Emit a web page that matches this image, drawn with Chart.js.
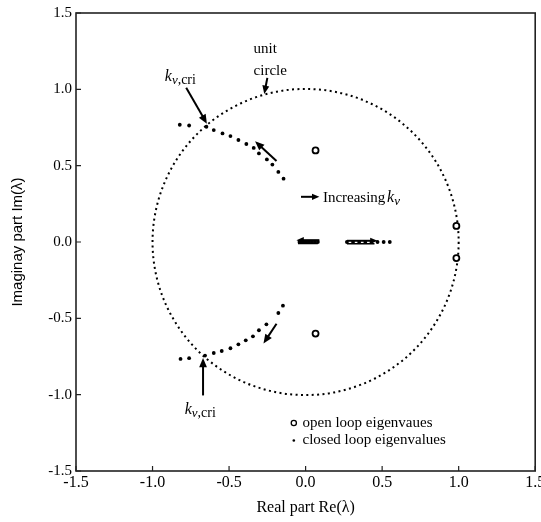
<!DOCTYPE html>
<html>
<head>
<meta charset="utf-8">
<script src="https://cdn.jsdelivr.net/npm/chart.js@4.4.0/dist/chart.umd.min.js"></script>
<style>
  html, body { margin: 0; padding: 0; background: #fff; }
  #wrap { width: 541px; height: 522px; }
</style>
</head>
<body>
<div id="wrap"><canvas id="locus"></canvas></div>
<script>
'use strict';

// ************** Data ***************

let tickValues = [-1.5, -1.0, -0.5, 0.0, 0.5, 1.0, 1.5];

// open loop eigenvalues
let openRe = [0.065, 0.065, 0.985, 0.985];
let openIm = [0.60, -0.60, 0.105, -0.105];

// closed loop eigenvalues, upper complex branch
let upperRe = [-0.822, -0.761, -0.648, -0.600, -0.543, -0.491, -0.439, -0.387, -0.339, -0.305, -0.253, -0.217, -0.178, -0.144];
let upperIm = [0.768, 0.763, 0.755, 0.733, 0.711, 0.694, 0.668, 0.642, 0.616, 0.580, 0.541, 0.507, 0.459, 0.415];

// closed loop eigenvalues, lower complex branch
let lowerRe = [-0.817, -0.761, -0.657, -0.600, -0.548, -0.491, -0.439, -0.391, -0.344, -0.305, -0.256, -0.178, -0.148];
let lowerIm = [-0.766, -0.761, -0.744, -0.727, -0.714, -0.696, -0.670, -0.644, -0.618, -0.578, -0.539, -0.465, -0.417];

// closed loop eigenvalues on the real axis
let realRe = [-0.04, -0.02, 0.0, 0.02, 0.04, 0.06, 0.08, 0.27, 0.31, 0.35, 0.39, 0.43, 0.47, 0.51, 0.55];
let realIm = [0, 0, 0, 0, 0, 0, 0, 0, 0, 0, 0, 0, 0, 0, 0];

function toPoints(re, im) {
  let pts = [];
  for (let i = 0; i < re.length; i++) {
    pts.push({ x: re[i], y: im[i] });
  }
  return pts;
}

// ************** Drawing helpers ***************

function drawArrow(ctx, x1, y1, x2, y2, head) {
  let ang = Math.atan2(y2 - y1, x2 - x1);
  ctx.beginPath();
  ctx.moveTo(x1, y1);
  ctx.lineTo(x2 - Math.cos(ang) * head * 0.7, y2 - Math.sin(ang) * head * 0.7);
  ctx.stroke();
  ctx.beginPath();
  ctx.moveTo(x2, y2);
  ctx.lineTo(x2 - head * Math.cos(ang - 0.4), y2 - head * Math.sin(ang - 0.4));
  ctx.lineTo(x2 - head * Math.cos(ang + 0.4), y2 - head * Math.sin(ang + 0.4));
  ctx.closePath();
  ctx.fill();
}

function drawKv(ctx, x, y, bigSize) {
  ctx.textAlign = 'left';
  ctx.textBaseline = 'alphabetic';
  ctx.font = 'italic ' + bigSize + 'px "Liberation Serif"';
  ctx.fillText('k', x, y);
  let w = ctx.measureText('k').width;
  ctx.font = 'italic ' + (bigSize - 3) + 'px "Liberation Serif"';
  ctx.fillText('v', x + w, y + 3);
  return x + w + ctx.measureText('v').width;
}

// ************** Plugin: unit circle, frame, ticks, notes ***************

let locusExtras = {
  id: 'locusExtras',
  beforeDatasetsDraw(chart) {
    let ctx = chart.ctx;
    let sx = chart.scales.x;
    let sy = chart.scales.y;
    let cx = sx.getPixelForValue(0);
    let cy = sy.getPixelForValue(0);
    let r = sx.getPixelForValue(1) - cx;
    ctx.save();
    ctx.strokeStyle = '#000';
    ctx.lineWidth = 2;
    ctx.setLineDash([2, 3.4]);
    ctx.beginPath();
    ctx.arc(cx, cy, r, 0, Math.PI * 2);
    ctx.stroke();
    ctx.restore();
  },
  afterDraw(chart) {
    let ctx = chart.ctx;
    let sx = chart.scales.x;
    let sy = chart.scales.y;
    let a = chart.chartArea;
    let px = v => sx.getPixelForValue(v);
    let py = v => sy.getPixelForValue(v);

    ctx.save();
    // frame
    ctx.strokeStyle = '#222';
    ctx.lineWidth = 1.6;
    ctx.strokeRect(a.left, a.top, a.right - a.left, a.bottom - a.top);

    // inward ticks on bottom and left
    ctx.lineWidth = 1.2;
    ctx.beginPath();
    for (let i = 0; i < tickValues.length; i++) {
      let tx = px(tickValues[i]);
      ctx.moveTo(tx, a.bottom);
      ctx.lineTo(tx, a.bottom - 5);
      let ty = py(tickValues[i]);
      ctx.moveTo(a.left, ty);
      ctx.lineTo(a.left + 5, ty);
    }
    ctx.stroke();

    // arrows
    ctx.strokeStyle = '#000';
    ctx.fillStyle = '#000';
    ctx.lineWidth = 2;
    drawArrow(ctx, px(-0.25), py(1.075), px(-0.27), py(0.97), 9);
    drawArrow(ctx, px(-0.78), py(1.01), px(-0.645), py(0.775), 10);
    drawArrow(ctx, px(-0.19), py(0.53), px(-0.33), py(0.66), 10);
    drawArrow(ctx, px(-0.19), py(-0.535), px(-0.275), py(-0.665), 10);
    drawArrow(ctx, px(-0.67), py(-1.005), px(-0.67), py(-0.76), 10);
    drawArrow(ctx, px(-0.03), py(0.296), px(0.09), py(0.296), 8);
    drawArrow(ctx, px(0.09), py(0.012), px(-0.06), py(0.012), 8);
    drawArrow(ctx, px(0.27), py(0.008), px(0.47), py(0.008), 8);
    ctx.lineWidth = 1.5;
    ctx.beginPath();
    ctx.moveTo(px(-0.05), py(-0.01));
    ctx.lineTo(px(0.08), py(-0.01));
    ctx.moveTo(px(0.27), py(-0.012));
    ctx.lineTo(px(0.45), py(-0.012));
    ctx.stroke();

    // text notes
    ctx.textAlign = 'left';
    ctx.textBaseline = 'alphabetic';
    ctx.font = '15px "Liberation Serif"';
    ctx.fillText('unit', px(-0.34), py(1.238));
    ctx.fillText('circle', px(-0.34), py(1.095));

    let endX = drawKv(ctx, px(-0.92), py(1.056), 16);
    ctx.font = '14px "Liberation Serif"';
    ctx.fillText(',cri', endX, py(1.056) + 3);

    endX = drawKv(ctx, px(-0.79), py(-1.125), 16);
    ctx.font = '14px "Liberation Serif"';
    ctx.fillText(',cri', endX, py(-1.125) + 3);

    ctx.font = '15px "Liberation Serif"';
    ctx.fillText('Increasing ', px(0.113), py(0.265));
    let wInc = ctx.measureText('Increasing ').width;
    drawKv(ctx, px(0.113) + wInc - 2, py(0.265), 16);

    // legend
    ctx.lineWidth = 1.3;
    ctx.beginPath();
    ctx.arc(px(-0.077), py(-1.186), 2.6, 0, Math.PI * 2);
    ctx.stroke();
    ctx.beginPath();
    ctx.arc(px(-0.077), py(-1.30), 1.3, 0, Math.PI * 2);
    ctx.fill();
    ctx.font = '15px "Liberation Serif"';
    ctx.textBaseline = 'middle';
    ctx.fillText('open loop eigenvaues', px(-0.02), py(-1.186));
    ctx.fillText('closed loop eigenvalues', px(-0.02), py(-1.297));
    ctx.restore();
  }
};

// ************** Chart ***************

let closedStyle = {
  pointRadius: 1.9,
  pointBackgroundColor: '#000',
  pointBorderWidth: 0,
  showLine: false
};

let ctx = document.getElementById('locus').getContext('2d');

new Chart(ctx, {
  type: 'scatter',
  data: {
    datasets: [
      Object.assign({ label: 'closed loop eigenvalues', data: toPoints(upperRe, upperIm) }, closedStyle),
      Object.assign({ label: 'closed loop eigenvalues', data: toPoints(lowerRe, lowerIm) }, closedStyle),
      Object.assign({ label: 'closed loop eigenvalues', data: toPoints(realRe, realIm) }, closedStyle),
      {
        label: 'open loop eigenvalues',
        data: toPoints(openRe, openIm),
        pointRadius: 3,
        pointBackgroundColor: '#fff',
        pointBorderColor: '#000',
        pointBorderWidth: 1.8,
        showLine: false
      }
    ]
  },
  options: {
    responsive: true,
    maintainAspectRatio: false,
    animation: false,
    layout: { padding: { left: 0, right: 5, top: 12, bottom: 0 } },
    plugins: {
      legend: { display: false },
      tooltip: { enabled: false }
    },
    scales: {
      x: {
        type: 'linear',
        min: -1.5,
        max: 1.5,
        afterBuildTicks: s => { s.ticks = tickValues.map(v => ({ value: v })); },
        ticks: {
          callback: v => v.toFixed(1),
          font: { family: 'Liberation Serif', size: 16 },
          color: '#000',
          padding: 2,
          maxRotation: 0
        },
        grid: { display: false, drawTicks: false },
        border: { display: false },
        title: {
          display: true,
          text: 'Real part Re(λ)',
          font: { family: 'Liberation Serif', size: 16 },
          color: '#000',
          padding: { top: 0, bottom: 5 }
        },
        afterFit: s => { s.height = 51; s.paddingLeft = 0; s.paddingRight = 0; }
      },
      y: {
        type: 'linear',
        min: -1.5,
        max: 1.5,
        afterBuildTicks: s => { s.ticks = tickValues.map(v => ({ value: v })); },
        ticks: {
          callback: v => v.toFixed(1),
          font: { family: 'Liberation Serif', size: 15 },
          color: '#000',
          padding: 4
        },
        grid: { display: false, drawTicks: false },
        border: { display: false },
        title: {
          display: true,
          text: 'Imaginay part Im(λ)',
          font: { family: 'Liberation Sans', size: 15 },
          color: '#000',
          padding: { top: 9, bottom: 0 }
        },
        afterFit: s => { s.width = 76; }
      }
    }
  },
  plugins: [locusExtras]
});
</script>
</body>
</html>
